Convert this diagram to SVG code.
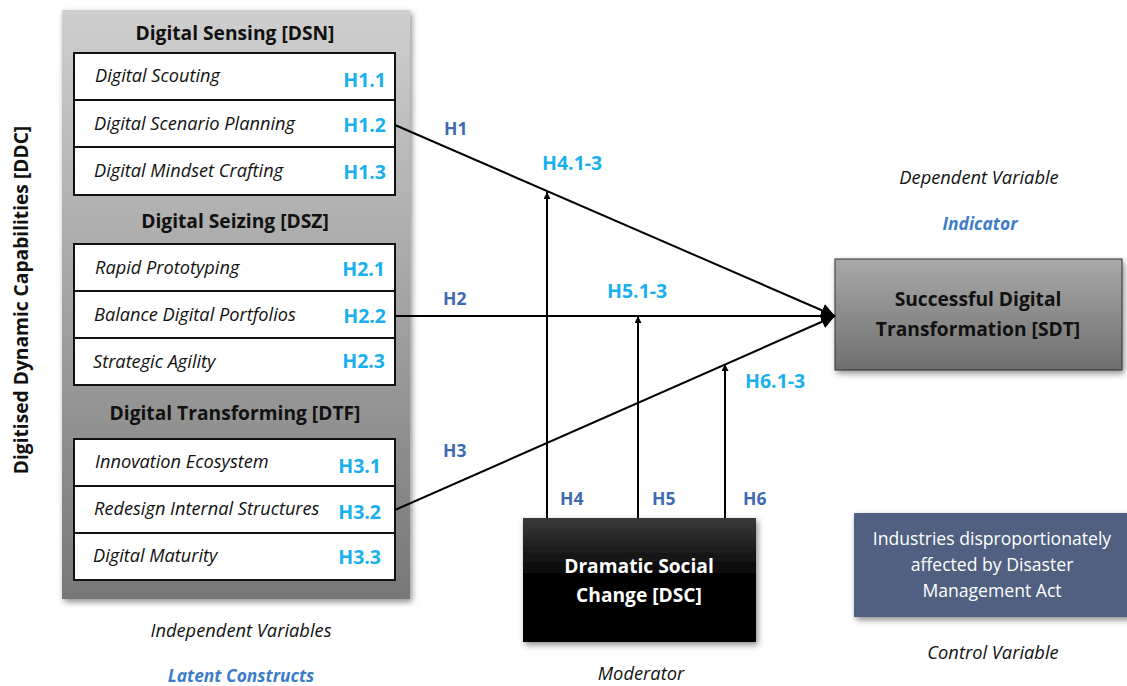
<svg xmlns="http://www.w3.org/2000/svg" width="1127" height="686" viewBox="0 0 1127 686">
<defs>
<linearGradient id="gPanel" x1="0" y1="0" x2="0" y2="1"><stop offset="0" stop-color="#cfcfcf"/><stop offset="1" stop-color="#777777"/></linearGradient>
<linearGradient id="gSdt" x1="0" y1="0" x2="0" y2="1"><stop offset="0" stop-color="#a9a9a9"/><stop offset="1" stop-color="#6f6f6f"/></linearGradient>
<linearGradient id="gDsc" x1="0" y1="0" x2="0" y2="1"><stop offset="0" stop-color="#3a3a3a"/><stop offset="0.5" stop-color="#000"/><stop offset="1" stop-color="#000"/></linearGradient>
<filter id="sh" x="-10%" y="-10%" width="125%" height="125%"><feDropShadow dx="2" dy="3" stdDeviation="3" flood-color="#000" flood-opacity="0.45"/></filter>
<marker id="ah" viewBox="0 0 10 10" refX="10" refY="5" markerWidth="7" markerHeight="7" markerUnits="userSpaceOnUse" orient="auto"><path d="M0,0 L10,5 L0,10 z" fill="#000"/></marker>
<marker id="ahBig" viewBox="0 0 10 10" refX="10" refY="5" markerWidth="14" markerHeight="14" markerUnits="userSpaceOnUse" orient="auto"><path d="M0,0 L10,5 L0,10 z" fill="#000"/></marker>
</defs>
<style>
text{font-family:"Open Sans","Liberation Sans",sans-serif}
.hd{font-size:19.2px;font-weight:bold;fill:#111;text-anchor:middle}
.it{font-size:18.2px;font-style:italic;fill:#111}
.hc{font-size:19.5px;font-weight:bold;fill:#1ab0ee;text-anchor:end}
.hb{font-size:17.5px;font-weight:bold;fill:#3e6bb0}
.cap{font-size:18.3px;font-style:italic;fill:#111;text-anchor:middle}
.capb{font-size:17.4px;font-style:italic;font-weight:bold;fill:#3b7dc8;text-anchor:middle}
.ctl{font-size:17.6px;fill:#fff;text-anchor:middle}
.row{fill:#fff;stroke:#111;stroke-width:2}
.ln{stroke:#000;stroke-width:2;fill:none}
</style>
<g id="ddc">
<rect x="62" y="10" width="348" height="589" fill="url(#gPanel)" filter="url(#sh)"/>
<text class="hd" x="22" y="300" transform="rotate(-90 22 300)" dy="6">Digitised Dynamic Capabilities [DDC]</text>
</g>
<g id="dsn">
<text class="hd" x="235" y="40">Digital Sensing [DSN]</text>
<rect class="row" x="74" y="53" width="321" height="47"/>
<rect class="row" x="74" y="100" width="321" height="47"/>
<rect class="row" x="74" y="147" width="321" height="48"/>
<text class="it" x="95" y="82">Digital Scouting</text>
<text class="hc" x="386" y="87">H1.1</text>
<text class="it" x="94" y="130">Digital Scenario Planning</text>
<text class="hc" x="386" y="132">H1.2</text>
<text class="it" x="94" y="177">Digital Mindset Crafting</text>
<text class="hc" x="386" y="179">H1.3</text>
</g>
<g id="dsz">
<text class="hd" x="235" y="228">Digital Seizing [DSZ]</text>
<rect class="row" x="74" y="244" width="321" height="47"/>
<rect class="row" x="74" y="291" width="321" height="47"/>
<rect class="row" x="74" y="338" width="321" height="47"/>
<text class="it" x="95" y="274">Rapid Prototyping</text>
<text class="hc" x="385" y="276">H2.1</text>
<text class="it" x="94" y="321">Balance Digital Portfolios</text>
<text class="hc" x="386" y="323">H2.2</text>
<text class="it" x="93" y="368">Strategic Agility</text>
<text class="hc" x="385" y="368">H2.3</text>
</g>
<g id="dtf">
<text class="hd" x="235" y="420">Digital Transforming [DTF]</text>
<rect class="row" x="74" y="439" width="321" height="47"/>
<rect class="row" x="74" y="486" width="321" height="47"/>
<rect class="row" x="74" y="533" width="321" height="47"/>
<text class="it" x="95" y="468">Innovation Ecosystem</text>
<text class="hc" x="381" y="473">H3.1</text>
<text class="it" x="94" y="515">Redesign Internal Structures</text>
<text class="hc" x="381" y="519">H3.2</text>
<text class="it" x="93" y="562">Digital Maturity</text>
<text class="hc" x="381" y="564">H3.3</text>
</g>
<g id="sdt">
<rect x="835" y="259" width="287" height="111" fill="url(#gSdt)" stroke="#333" stroke-width="1" filter="url(#sh)"/>
<text class="hd" x="978" y="306">Successful Digital</text>
<text class="hd" x="978" y="336">Transformation [SDT]</text>
</g>
<g id="dsc">
<rect x="523" y="518" width="233" height="124" fill="url(#gDsc)" filter="url(#sh)"/>
<text class="hd" x="639" y="573" style="fill:#fff">Dramatic Social</text>
<text class="hd" x="639" y="602" style="fill:#fff">Change [DSC]</text>
</g>
<g id="control">
<rect x="854" y="513" width="280" height="104" fill="#4f6180" filter="url(#sh)"/>
<text class="ctl" x="992" y="545">Industries disproportionately</text>
<text class="ctl" x="992" y="571">affected by Disaster</text>
<text class="ctl" x="992" y="597">Management Act</text>
</g>
<g id="connectors">
<line class="ln" x1="395" y1="125" x2="835" y2="316" marker-end="url(#ahBig)"/>
<line class="ln" x1="395" y1="316" x2="835" y2="316" marker-end="url(#ahBig)"/>
<line class="ln" x1="395" y1="510" x2="835" y2="316" marker-end="url(#ahBig)"/>
<line class="ln" x1="547" y1="518" x2="547" y2="192" marker-end="url(#ah)"/>
<line class="ln" x1="638" y1="518" x2="638" y2="316" marker-end="url(#ah)"/>
<line class="ln" x1="725" y1="518" x2="725" y2="364" marker-end="url(#ah)"/>
</g>
<g id="labels">
<text class="hb" x="444" y="135">H1</text>
<text class="hb" x="443" y="305">H2</text>
<text class="hb" x="443" y="457">H3</text>
<text class="hb" x="560" y="505">H4</text>
<text class="hb" x="652" y="505">H5</text>
<text class="hb" x="743" y="505">H6</text>
<text class="hc" x="542" y="170" style="text-anchor:start">H4.1-3</text>
<text class="hc" x="607" y="298" style="text-anchor:start">H5.1-3</text>
<text class="hc" x="745" y="388" style="text-anchor:start">H6.1-3</text>
<text class="cap" x="979" y="184">Dependent Variable</text>
<text class="capb" x="980" y="230">Indicator</text>
<text class="cap" x="241" y="637">Independent Variables</text>
<text class="capb" x="241" y="682">Latent Constructs</text>
<text class="cap" x="641" y="680">Moderator</text>
<text class="cap" x="993" y="659">Control Variable</text>
</g>
</svg>
